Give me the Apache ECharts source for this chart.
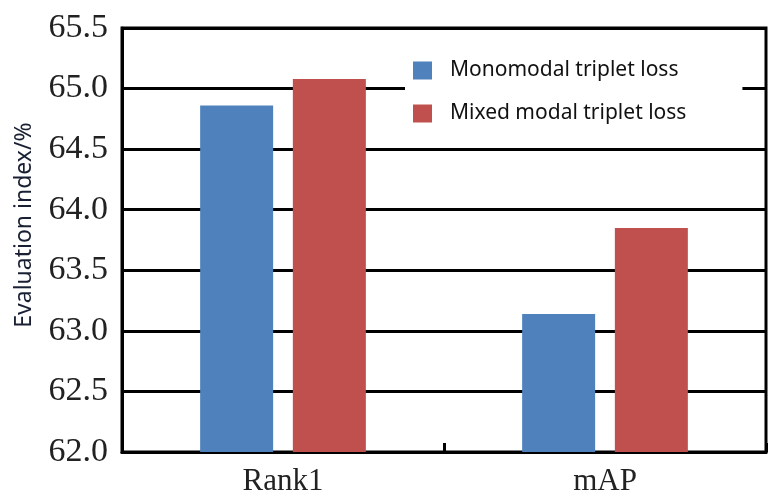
<!DOCTYPE html>
<html>
<head>
<meta charset="utf-8">
<style>html,body{margin:0;padding:0;background:#fff;}#c{width:773px;height:494px;}</style>
<script src="https://cdn.jsdelivr.net/npm/echarts@6/dist/echarts.min.js"></script>
</head>
<body>
<div id="c"></div>
<script>
const categories = ['Rank1', 'mAP'];
const monomodal = [64.86, 63.14];
const mixedModal = [65.08, 63.85];
const seriesNames = ['Monomodal triplet loss', 'Mixed modal triplet loss'];

const chart = echarts.init(document.getElementById('c'), null, {renderer: 'canvas'});
chart.setOption({
  animation: false,
  backgroundColor: '#fff',
  grid: {left: 122, right: 7, top: 28, bottom: 42, containLabel: false, outerBoundsMode: 'none', show: true, borderColor: '#000', borderWidth: 3, backgroundColor: 'transparent'},
  legend: {
    orient: 'vertical',
    left: 405, top: 52,
    padding: [8, 56, 8, 8],
    backgroundColor: '#fff',
    itemWidth: 19, itemHeight: 18, itemGap: 22,
    icon: 'rect',
    textStyle: {fontFamily: 'Noto Sans', fontSize: 21, color: '#111', padding: [0, 0, 0, 13]},
    data: seriesNames
  },
  xAxis: {
    type: 'category',
    data: categories,
    axisLine: {lineStyle: {color: '#000', width: 3}},
    axisTick: {show: true, inside: true, length: 9, lineStyle: {color: '#000', width: 3}},
    axisLabel: {fontFamily: 'Liberation Serif', fontSize: 31, color: '#222', margin: 14}
  },
  yAxis: {
    type: 'value',
    min: 62, max: 65.5, interval: 0.5,
    name: 'Evaluation index/%',
    nameLocation: 'middle', nameGap: 86, nameRotate: 90,
    nameTextStyle: {fontFamily: 'Noto Sans', fontSize: 23, color: '#1a2033', padding: [0, 0, 0, 30]},
    axisLine: {show: true, lineStyle: {color: '#000', width: 3}},
    axisTick: {show: false},
    splitLine: {show: true, lineStyle: {color: '#000', width: 3}},
    axisLabel: {fontFamily: 'Liberation Serif', fontSize: 34, color: '#222', margin: 14, formatter: v => v.toFixed(1)}
  },
  series: [
    {name: seriesNames[0], type: 'bar', data: monomodal, barWidth: 73, barGap: '27%', itemStyle: {color: '#4F81BD'}},
    {name: seriesNames[1], type: 'bar', data: mixedModal, barWidth: 73, itemStyle: {color: '#C0504D'}}
  ]
});
</script>
</body>
</html>
